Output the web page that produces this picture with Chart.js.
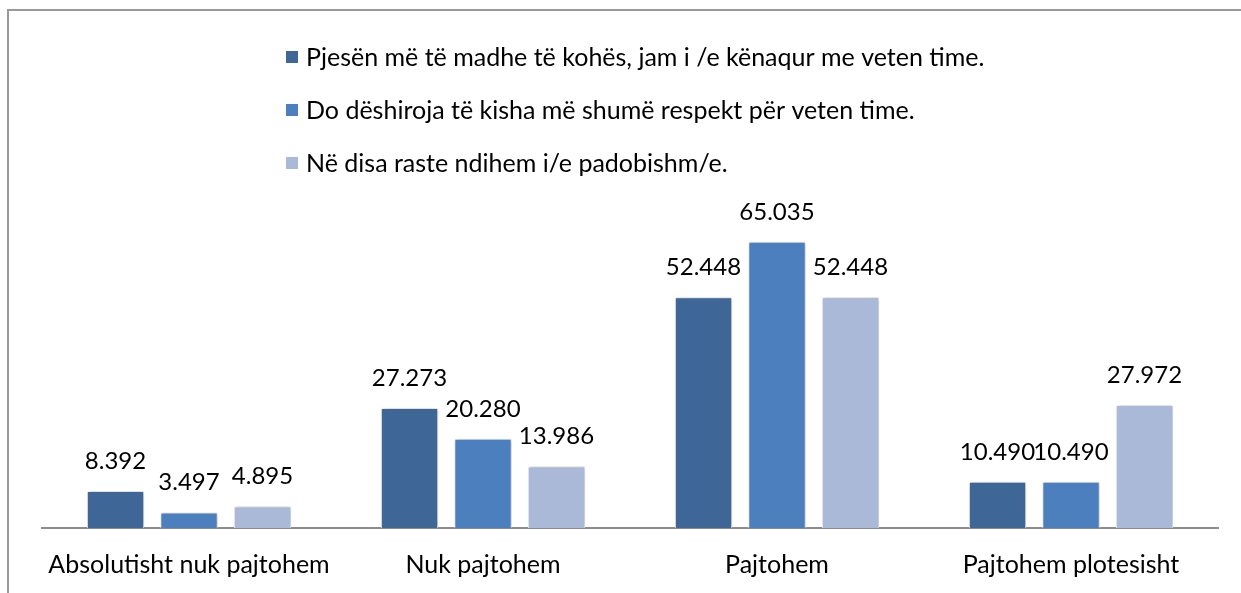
<!DOCTYPE html>
<html>
<head>
<meta charset="utf-8">
<script src="https://cdn.jsdelivr.net/npm/chart.js@4.4.1/dist/chart.umd.min.js"></script>
<style>
  html, body { margin: 0; padding: 0; background: #fff; overflow: hidden; }
  #wrap { position: relative; width: 1241px; height: 593px; }
  #frame { position: absolute; left: 7px; top: 9px; width: 1300px; height: 700px;
           border-left: 2px solid #9a9a9a; border-top: 2px solid #9a9a9a; }
  canvas { position: absolute; left: 0; top: 0; }
</style>
</head>
<body>
<div id="wrap">
  <div id="frame"></div>
  <canvas id="chart1" width="1241" height="593"></canvas>
</div>
<script>
const categories = ['Absolutisht nuk pajtohem', 'Nuk pajtohem', 'Pajtohem', 'Pajtohem plotesisht'];
const seriesNames = [
  'Pjesën më të madhe të kohës, jam i /e kënaqur me veten time.',
  'Do dëshiroja të kisha më shumë respekt për veten time.',
  'Në disa raste ndihem i/e padobishm/e.'
];
const kenaqur = [8.392, 27.273, 52.448, 10.490];
const respekt = [3.497, 20.280, 65.035, 10.490];
const padobishem = [4.895, 13.986, 52.448, 27.972];
const colors = ['#3E6798', '#4C7FBE', '#A9B9D7'];

const FONT = 'Lato, "Noto Sans", sans-serif';

// legend drawn by hand: left aligned list
const legendPlugin = {
  id: 'listLegend',
  afterDraw(chart) {
    const ctx = chart.ctx;
    ctx.save();
    ctx.font = '25px ' + FONT;
    ctx.textBaseline = 'alphabetic';
    chart.data.datasets.forEach((ds, i) => {
      const y = 66 + i * 53;
      ctx.fillStyle = ds.backgroundColor;
      ctx.fillRect(286, y - 15, 12, 12);
      ctx.fillStyle = '#000';
      ctx.fillText(ds.label, 306, y);
    });
    ctx.restore();
  }
};

const valueLabels = {
  id: 'valueLabels',
  afterDatasetsDraw(chart) {
    const ctx = chart.ctx;
    ctx.save();
    ctx.font = '24px ' + FONT;
    ctx.fillStyle = '#000';
    ctx.textAlign = 'center';
    ctx.textBaseline = 'middle';
    chart.data.datasets.forEach((ds, i) => {
      chart.getDatasetMeta(i).data.forEach((bar, j) => {
        ctx.fillText(ds.data[j].toFixed(3), bar.x, bar.y - 30);
      });
    });
    ctx.restore();
  }
};

const barShadow = {
  id: 'barShadow',
  beforeDatasetsDraw(chart) {
    const ctx = chart.ctx;
    ctx.save();
    ctx.shadowColor = 'rgba(0,0,0,0.3)';
    ctx.shadowBlur = 4;
    ctx.shadowOffsetX = 1;
    ctx.shadowOffsetY = 0;
  },
  afterDatasetsDraw(chart) {
    chart.ctx.restore();
  }
};

const ctx1 = document.getElementById('chart1').getContext('2d');
const chart1 = new Chart(ctx1, {
  type: 'bar',
  data: {
    labels: categories,
    datasets: [
      { label: seriesNames[0], data: kenaqur, backgroundColor: colors[0] },
      { label: seriesNames[1], data: respekt, backgroundColor: colors[1] },
      { label: seriesNames[2], data: padobishem, backgroundColor: colors[2] }
    ]
  },
  options: {
    responsive: false,
    animation: false,
    devicePixelRatio: 1,
    layout: { padding: { left: 42, right: 23, top: 220, bottom: 5 } },
    datasets: {
      bar: {
        categoryPercentage: 0.75,
        barPercentage: 0.78,
        borderColor: '#ffffff',
        borderWidth: 1
      }
    },
    plugins: {
      legend: { display: false },
      tooltip: { enabled: false }
    },
    scales: {
      x: {
        grid: { display: false, drawTicks: false },
        border: { display: true, color: '#8c8c8c', width: 2 },
        ticks: { color: '#000', font: { family: FONT, size: 25 }, padding: 22, maxRotation: 0 },
        afterFit(scale) { scale.height = 60; }
      },
      y: {
        display: false,
        min: 0,
        max: 70
      }
    }
  },
  plugins: [barShadow, valueLabels, legendPlugin]
});
</script>
</body>
</html>
